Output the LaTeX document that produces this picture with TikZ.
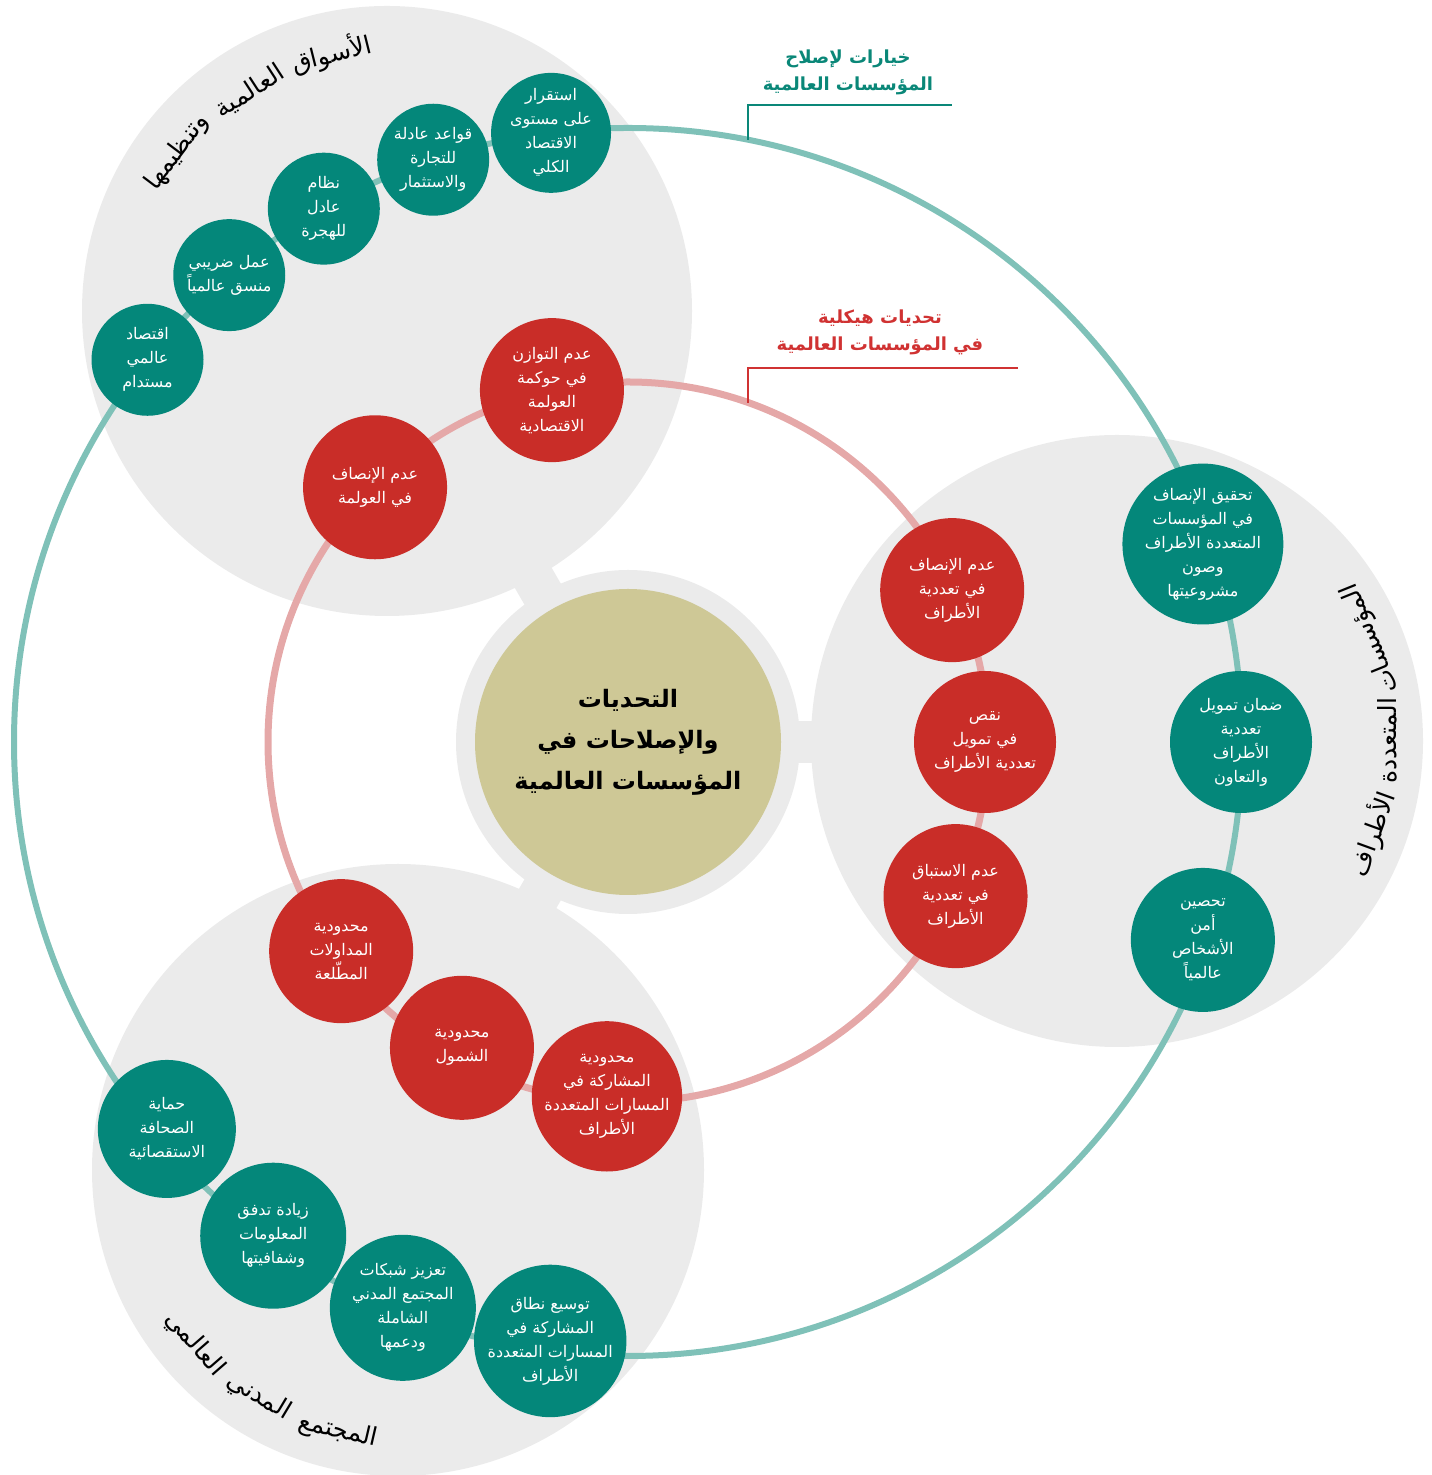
\documentclass[tikz,border=0pt]{standalone}
\usepackage{fontspec}
\newfontfamily\arabicfont[Script=Arabic]{DejaVu Sans}
\TeXXeTstate=1
\newcommand{\artext}[1]{\beginR#1\endR}
\definecolor{greyfill}{RGB}{235,235,235}
\definecolor{tealfill}{RGB}{4,135,122}
\definecolor{redfill}{RGB}{201,45,40}
\definecolor{tealring}{RGB}{127,193,184}
\definecolor{pinkring}{RGB}{229,168,168}
\definecolor{goldfill}{RGB}{206,200,150}
\definecolor{tealink}{RGB}{10,135,120}
\definecolor{redink}{RGB}{208,50,50}
\begin{document}
\begin{tikzpicture}[x=1pt, y=1pt,
    opt/.style={circle, fill=tealfill, text=white, inner sep=0pt, align=center,
      font=\arabicfont\fontsize{16}{24}\selectfont},
    chal/.style={circle, fill=redfill, text=white, inner sep=0pt, minimum size=144pt, align=center,
      font=\arabicfont\fontsize{16}{24}\selectfont},
    arclabel/.style={inner sep=0pt, font=\arabicfont\fontsize{25}{30}\selectfont},
    head/.style={align=center, font=\arabicfont\bfseries\fontsize{18}{27}\selectfont}]
    \useasboundingbox (0,0) rectangle (1432,1475);
    \coordinate (O) at (628,733);

    % 灰色连接块
    \draw[greyfill, line width=42pt] (O) -- ++(120:300);
    \draw[greyfill, line width=42pt] (O) -- ++(0:300);
    \draw[greyfill, line width=42pt] (O) -- ++(240:300);

    % 三个大圆
    \fill[greyfill] (387,1164) circle (305);
    \fill[greyfill] (1117,734) circle (306);
    \fill[greyfill] (398,305) circle (306);

    % 中心灰环与两条圆环
    \fill[greyfill] (O) circle (172);
    \draw[tealring, line width=6pt] (O) circle (614);
    \draw[pinkring, line width=7pt] (O) circle (360);

    % 中心
    \node[circle, fill=goldfill, minimum size=306pt, inner sep=0pt, align=center,
      font=\arabicfont\bfseries\fontsize{24}{41}\selectfont] (core) at (O)
      {\artext{التحديات}\\\artext{والإصلاحات في}\\\artext{المؤسسات العالمية}};

    \begin{scope}[shift={(O)}]
      % 外环：改革选项
      \node[opt, minimum size=112pt] (mk1) at (97.2:614) {\artext{استقرار}\\\artext{على مستوى}\\\artext{الاقتصاد}\\\artext{الكلي}};
      \node[opt, minimum size=112pt] (mk2) at (108.5:614) {\artext{قواعد عادلة}\\\artext{للتجارة}\\\artext{والاستثمار}};
      \node[opt, minimum size=112pt] (mk3) at (119.7:614) {\artext{نظام}\\\artext{عادل}\\\artext{للهجرة}};
      \node[opt, minimum size=112pt] (mk4) at (130.5:614) {\artext{عمل ضريبي}\\\artext{منسق عالمياً}};
      \node[opt, minimum size=112pt] (mk5) at (141.5:614) {\artext{اقتصاد}\\\artext{عالمي}\\\artext{مستدام}};

      \node[opt, minimum size=144pt] (ml1) at (19:608) {\artext{تحقيق الإنصاف}\\\artext{في المؤسسات}\\\artext{المتعددة الأطراف}\\\artext{وصون}\\\artext{مشروعيتها}};
      \node[opt, minimum size=142pt] (ml2) at (0:613) {\artext{ضمان تمويل}\\\artext{تعددية}\\\artext{الأطراف}\\\artext{والتعاون}};
      \node[opt, minimum size=144pt] (ml3) at (-19:608) {\artext{تحصين}\\\artext{أمن}\\\artext{الأشخاص}\\\artext{عالمياً}};

      \node[opt, minimum size=138pt] (cs1) at (220:602) {\artext{حماية}\\\artext{الصحافة}\\\artext{الاستقصائية}};
      \node[opt, minimum size=146pt] (cs2) at (234.3:608) {\artext{زيادة تدفق}\\\artext{المعلومات}\\\artext{وشفافيتها}};
      \node[opt, minimum size=146pt] (cs3) at (248.3:609) {\artext{تعزيز شبكات}\\\artext{المجتمع المدني}\\\artext{الشاملة}\\\artext{ودعمها}};
      \node[opt, minimum size=146pt] (cs4) at (262.6:604) {\artext{توسيع نطاق}\\\artext{المشاركة في}\\\artext{المسارات المتعددة}\\\artext{الأطراف}};

      % 内环：结构性挑战
      \node[chal] (ch1) at (102.2:360) {\artext{عدم التوازن}\\\artext{في حوكمة}\\\artext{العولمة}\\\artext{الاقتصادية}};
      \node[chal] (ch2) at (134.8:359) {\artext{عدم الإنصاف}\\\artext{في العولمة}};
      \node[chal] (ch3) at (25.1:358) {\artext{عدم الإنصاف}\\\artext{في تعددية}\\\artext{الأطراف}};
      \node[chal, minimum size=142pt] (ch4) at (0:357) {\artext{نقص}\\\artext{في تمويل}\\\artext{تعددية الأطراف}};
      \node[chal] (ch5) at (-25.2:362) {\artext{عدم الاستباق}\\\artext{في تعددية}\\\artext{الأطراف}};
      \node[chal] (ch6) at (216.1:355) {\artext{محدودية}\\\artext{المداولات}\\\artext{المطّلعة}};
      \node[chal] (ch7) at (241.5:348) {\artext{محدودية}\\\artext{الشمول}};
      \node[chal] (ch8) at (266.6:355) {\artext{محدودية}\\\artext{المشاركة في}\\\artext{المسارات المتعددة}\\\artext{الأطراف}};
    \end{scope}

    % 大圆标题（沿圆弧）
    \begin{scope}[shift={(387,1164)}]
      \node[arclabel, rotate=14] (mkl1) at (102.2:263) {\artext{الأسواق}};
      \node[arclabel, rotate=33] (mkl2) at (122:259) {\artext{العالمية}};
      \node[arclabel, rotate=53] (mkl3) at (142.8:263) {\artext{وتنظيمها}};
    \end{scope}
    \begin{scope}[shift={(1117,734)}]
      \node[arclabel, rotate=112] (mll1) at (22:274) {\artext{المؤسسات}};
      \node[arclabel, rotate=90] (mll2) at (0:270) {\artext{المتعددة}};
      \node[arclabel, rotate=70] (mll3) at (-20:272) {\artext{الأطراف}};
    \end{scope}
    \begin{scope}[shift={(398,305)}]
      \node[arclabel, rotate=-13] (csl1) at (257:268) {\artext{المجتمع}};
      \node[arclabel, rotate=-31] (csl2) at (238.5:266) {\artext{المدني}};
      \node[arclabel, rotate=-49] (csl3) at (220.5:268) {\artext{العالمي}};
    \end{scope}

    % 引线与说明
    \node[head, text=tealink] (opthd) at (848,1403) {\artext{خيارات لإصلاح}\\\artext{المؤسسات العالمية}};
    \coordinate (optfoot) at (748,1335);
    \coordinate (optend) at (952,1370);
    \draw[tealink, line width=2.2pt] (optfoot) |- (optend);

    \node[head, text=redink] (chalhd) at (880,1143) {\artext{تحديات هيكلية}\\\artext{في المؤسسات العالمية}};
    \coordinate (chalfoot) at (748,1072);
    \coordinate (chalend) at (1018,1107);
    \draw[redink, line width=2.2pt] (chalfoot) |- (chalend);
\end{tikzpicture}
\end{document}
